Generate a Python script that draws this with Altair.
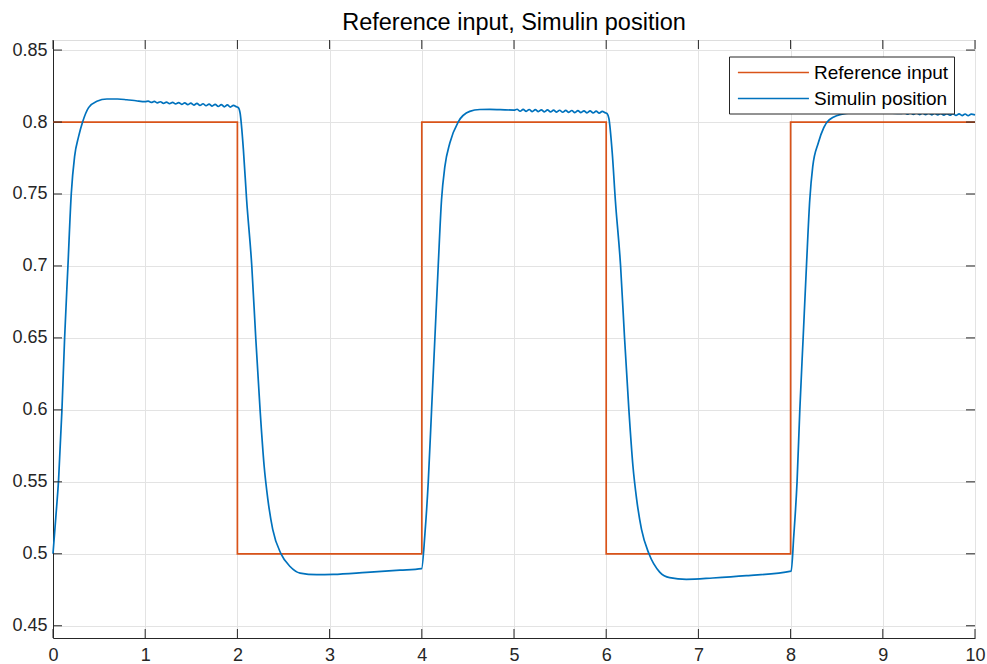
import altair as alt
import pandas as pd

# Reference input (step signal)
ref_x = [0, 2, 2, 4, 4, 6, 6, 8, 8, 10]
ref_y = [0.8, 0.8, 0.5, 0.5, 0.8, 0.8, 0.5, 0.5, 0.8, 0.8]

# Simulin position
sim_x = [
    0.000, 0.030, 0.061, 0.097, 0.126, 0.162, 0.198, 0.234, 0.278, 0.321, 0.386, 0.476, 0.585,
    0.700, 0.800, 0.900, 1.000,
    1.033, 1.066, 1.099, 1.132, 1.165, 1.198, 1.231, 1.264, 1.297, 1.330, 1.363, 1.396, 1.429,
    1.462, 1.495, 1.528, 1.561, 1.594, 1.627, 1.660, 1.693, 1.726, 1.759, 1.792, 1.825, 1.858,
    1.891, 1.924, 1.957, 1.990, 2.010,
    2.029, 2.065, 2.100, 2.156, 2.199, 2.246, 2.290, 2.330, 2.383, 2.473, 2.571, 2.680, 2.860,
    3.040, 3.400, 3.763, 3.998,
    4.034, 4.070, 4.106, 4.142, 4.178, 4.214, 4.250, 4.304, 4.394, 4.520, 4.630, 4.738, 4.850, 5.000,
    5.033, 5.066, 5.099, 5.132, 5.165, 5.198, 5.231, 5.264, 5.297, 5.330, 5.363, 5.396, 5.429,
    5.462, 5.495, 5.528, 5.561, 5.594, 5.627, 5.660, 5.693, 5.726, 5.759, 5.792, 5.825, 5.858,
    5.891, 5.924, 5.957, 5.990, 6.010,
    6.029, 6.065, 6.100, 6.156, 6.199, 6.246, 6.290, 6.330, 6.383, 6.464, 6.580, 6.688, 6.869,
    7.157, 7.520, 8.006,
    8.034, 8.070, 8.100, 8.136, 8.172, 8.208, 8.240, 8.300, 8.420, 8.600, 8.740, 8.900, 9.050, 9.200,
    9.233, 9.266, 9.299, 9.332, 9.365, 9.398, 9.431, 9.464, 9.497, 9.530, 9.563, 9.596, 9.629,
    9.662, 9.695, 9.728, 9.761, 9.794, 9.827, 9.860, 9.893, 9.926, 9.959, 10.000,
]
sim_y = [
    0.5000, 0.5250, 0.5520, 0.6000, 0.6500, 0.7000, 0.7500, 0.7760, 0.7900, 0.8000, 0.8100, 0.8144, 0.8160,
    0.8160, 0.8155, 0.8148, 0.8142,
    0.8145, 0.8136, 0.8143, 0.8133, 0.8141, 0.8130, 0.8139, 0.8128, 0.8137, 0.8126, 0.8135, 0.8123, 0.8133,
    0.8121, 0.8131, 0.8118, 0.8129, 0.8115, 0.8127, 0.8113, 0.8125, 0.8111, 0.8123, 0.8108, 0.8121, 0.8106,
    0.8119, 0.8104, 0.8116, 0.8106, 0.8100,
    0.8063, 0.7808, 0.7460, 0.7000, 0.6500, 0.6000, 0.5610, 0.5380, 0.5170, 0.5000, 0.4912, 0.4866, 0.4855,
    0.4857, 0.4871, 0.4886, 0.4897,
    0.5140, 0.5500, 0.6000, 0.6500, 0.7000, 0.7460, 0.7690, 0.7854, 0.8000, 0.8074, 0.8087, 0.8088, 0.8086, 0.8083,
    0.8089, 0.8075, 0.8088, 0.8074, 0.8087, 0.8073, 0.8086, 0.8072, 0.8085, 0.8071, 0.8084, 0.8070, 0.8083,
    0.8069, 0.8082, 0.8068, 0.8081, 0.8067, 0.8080, 0.8066, 0.8079, 0.8065, 0.8078, 0.8064, 0.8077, 0.8063,
    0.8076, 0.8062, 0.8074, 0.8064, 0.8058,
    0.8025, 0.7790, 0.7450, 0.7000, 0.6500, 0.6000, 0.5610, 0.5380, 0.5170, 0.5000, 0.4873, 0.4834, 0.4823,
    0.4832, 0.4848, 0.4880,
    0.5120, 0.5500, 0.6000, 0.6500, 0.7000, 0.7460, 0.7690, 0.7854, 0.8016, 0.8060, 0.8067, 0.8066, 0.8063, 0.8060,
    0.8066, 0.8054, 0.8065, 0.8053, 0.8064, 0.8052, 0.8063, 0.8051, 0.8062, 0.8050, 0.8061, 0.8049, 0.8060,
    0.8048, 0.8059, 0.8047, 0.8058, 0.8046, 0.8057, 0.8045, 0.8056, 0.8044, 0.8055, 0.8050,
]

x_ticks = [0, 1, 2, 3, 4, 5, 6, 7, 8, 9, 10]
y_ticks = [0.45, 0.5, 0.55, 0.6, 0.65, 0.7, 0.75, 0.8, 0.85]

series_names = ["Reference input", "Simulin position"]
series_colors = ["#D95319", "#0072BD"]

df_ref = pd.DataFrame({"x": ref_x, "y": ref_y, "series": series_names[0],
                       "i": list(range(len(ref_x)))})
df_sim = pd.DataFrame({"x": sim_x, "y": sim_y, "series": series_names[1],
                       "i": list(range(len(sim_x)))})

W, H = 922, 598
FONT = "Liberation Sans"
DARK = "#262626"

xscale = alt.Scale(domain=[0, 10], nice=False, zero=False)
yscale = alt.Scale(domain=[0.4415, 0.857], nice=False, zero=False)

x_enc = alt.X("x:Q", scale=xscale,
              axis=alt.Axis(title=None, values=x_ticks, tickSize=0, labelPadding=8,
                            labelFontSize=18, labelColor=DARK, domainColor=DARK,
                            gridColor="#e3e3e3", labelFont=FONT, labelFlush=False,
                            format="d"))
y_enc = alt.Y("y:Q", scale=yscale,
              axis=alt.Axis(title=None, values=y_ticks, tickSize=0, labelPadding=6,
                            labelFontSize=18, labelColor=DARK, domainColor=DARK,
                            gridColor="#e3e3e3", labelFont=FONT, format="~g"))
c_enc = alt.Color("series:N",
                  scale=alt.Scale(domain=series_names, range=series_colors),
                  legend=alt.Legend(title=None, orient="none", legendX=676, legendY=16.5,
                                    symbolType="M-0.7,0H6.3", symbolSize=412,
                                    symbolStrokeWidth=1.7, labelFontSize=19,
                                    labelFont=FONT, labelColor="#000000",
                                    strokeColor=DARK, fillColor="white",
                                    padding=5, rowPadding=5, labelOffset=58))

ref_line = alt.Chart(df_ref).mark_line(strokeWidth=1.7).encode(
    x=x_enc, y=y_enc, color=c_enc, order="i:Q")
sim_line = alt.Chart(df_sim).mark_line(strokeWidth=1.7, interpolate="monotone").encode(
    x=x_enc, y=y_enc, color=c_enc, order="i:Q")

xt = pd.DataFrame({"x": x_ticks})
yt = pd.DataFrame({"y": y_ticks})

tick_b = alt.Chart(xt).mark_rule(color=DARK, strokeWidth=1).encode(
    x=alt.X("x:Q", scale=xscale), y=alt.value(H), y2=alt.value(H - 9))
tick_t = alt.Chart(xt).mark_rule(color=DARK, strokeWidth=1).encode(
    x=alt.X("x:Q", scale=xscale), y=alt.value(0), y2=alt.value(9))
tick_l = alt.Chart(yt).mark_rule(color=DARK, strokeWidth=1).encode(
    y=alt.Y("y:Q", scale=yscale), x=alt.value(0), x2=alt.value(9))
tick_r = alt.Chart(yt).mark_rule(color=DARK, strokeWidth=1).encode(
    y=alt.Y("y:Q", scale=yscale), x=alt.value(W), x2=alt.value(W - 9))

chart = alt.layer(ref_line, sim_line, tick_b, tick_t, tick_l, tick_r).properties(
    width=W, height=H,
    title=alt.TitleParams("Reference input, Simulin position", fontSize=23.5, font=FONT,
                          fontWeight="normal", color="#000000", anchor="middle", offset=5),
    autosize=alt.AutoSizeParams(type="none"),
    padding={"left": 53, "top": 40, "right": 12, "bottom": 26},
).configure_view(stroke=DARK, strokeWidth=1).configure(background="white")

chart.save("out.html", embed_options={"renderer": "svg", "actions": False})
